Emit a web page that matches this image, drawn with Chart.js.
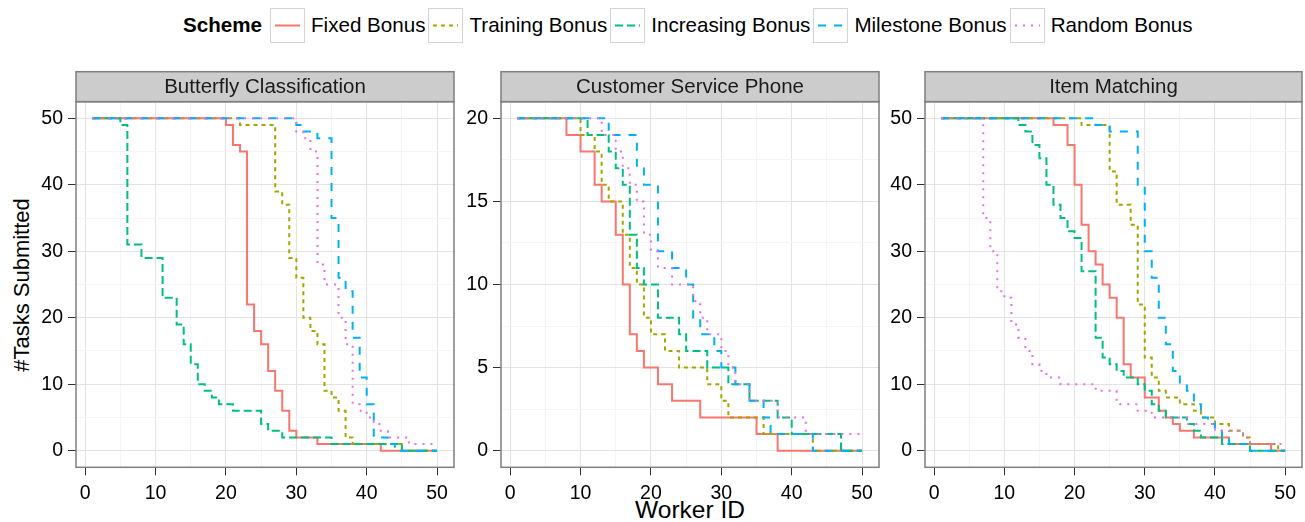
<!DOCTYPE html>
<html>
<head>
<meta charset="utf-8">
<title>Tasks submitted per worker</title>
<script src="https://cdn.jsdelivr.net/npm/chart.js@4.4.1/dist/chart.umd.min.js"></script>
<style>
  body { margin: 0; width: 1305px; height: 522px; background: #fff; position: relative; overflow: hidden;
         font-family: "Liberation Sans", Arial, sans-serif; color: #000; }
  canvas.panel { position: absolute; left: 0; top: 0; }
  #legend { position: absolute; left: 183px; top: 7px; height: 36px; display: flex; align-items: center; font-size: 20.6px; }
  #legend .title { font-weight: bold; margin-right: 8px; }
  #legend .key { width: 35px; height: 35px; border: 1px solid #d4d4d4; box-sizing: border-box; margin-right: 6px; }
  #legend .lbl { margin-right: 3px; }
  .axis-title { position: absolute; white-space: nowrap; }
  #xtitle { left: 690px; top: 510px; font-size: 24.5px; transform: translate(-50%, -50%); }
  #ytitle { left: 22px; top: 285px; font-size: 22px; transform: translate(-50%, -50%) rotate(-90deg); }
</style>
</head>
<body>
<div id="legend"></div>
<div class="axis-title" id="xtitle">Worker ID</div>
<div class="axis-title" id="ytitle">#Tasks Submitted</div>
<canvas class="panel" id="p1" width="1305" height="522"></canvas>
<canvas class="panel" id="p2" width="1305" height="522"></canvas>
<canvas class="panel" id="p3" width="1305" height="522"></canvas>
<script>
// ---- data ----
const workerIds = [
  1, 2, 3, 4, 5, 6, 7, 8, 9, 10,
  11, 12, 13, 14, 15, 16, 17, 18, 19, 20,
  21, 22, 23, 24, 25, 26, 27, 28, 29, 30,
  31, 32, 33, 34, 35, 36, 37, 38, 39, 40,
  41, 42, 43, 44, 45, 46, 47, 48, 49, 50
];
const schemes = ['Fixed Bonus', 'Training Bonus', 'Increasing Bonus', 'Milestone Bonus', 'Random Bonus'];
const panelTitles = ['Butterfly Classification', 'Customer Service Phone', 'Item Matching'];

// Butterfly Classification
const butterflyFixed = [
  50, 50, 50, 50, 50, 50, 50, 50, 50, 50,
  50, 50, 50, 50, 50, 50, 50, 50, 50, 49,
  46, 45, 22, 18, 16, 12, 9, 6, 3, 2,
  2, 2, 1, 1, 1, 1, 1, 1, 1, 1,
  1, 0, 0, 0, 0, 0, 0, 0, 0, 0
];
const butterflyTraining = [
  50, 50, 50, 50, 50, 50, 50, 50, 50, 50,
  50, 50, 50, 50, 50, 50, 50, 50, 50, 50,
  50, 49, 49, 49, 49, 49, 39, 37, 29, 26,
  20, 18, 16, 9, 8, 6, 2, 1, 1, 1,
  1, 1, 1, 1, 0, 0, 0, 0, 0, 0
];
const butterflyIncreasing = [
  50, 50, 50, 50, 49, 31, 31, 29, 29, 29,
  23, 23, 19, 16, 13, 10, 9, 8, 7, 7,
  6, 6, 6, 6, 4, 3, 3, 2, 2, 2,
  2, 2, 2, 2, 1, 1, 1, 1, 1, 1,
  1, 1, 1, 1, 0, 0, 0, 0, 0, 0
];
const butterflyMilestone = [
  50, 50, 50, 50, 50, 50, 50, 50, 50, 50,
  50, 50, 50, 50, 50, 50, 50, 50, 50, 50,
  50, 50, 50, 50, 50, 50, 50, 50, 50, 49,
  48, 48, 47, 47, 35, 26, 24, 17, 11, 7,
  2, 2, 1, 0, 0, 0, 0, 0, 0, 0
];
const butterflyRandom = [
  50, 50, 50, 50, 50, 50, 50, 50, 50, 50,
  50, 50, 50, 50, 50, 50, 50, 50, 50, 50,
  50, 50, 50, 50, 50, 50, 50, 50, 50, 48,
  47, 45, 28, 25, 25, 20, 16, 7, 6, 5,
  4, 3, 2, 2, 2, 1, 1, 1, 1, 1
];

// Customer Service Phone
const phoneFixed = [
  20, 20, 20, 20, 20, 20, 20, 19, 19, 18,
  18, 16, 15, 15, 13, 10, 7, 6, 5, 5,
  4, 4, 3, 3, 3, 3, 2, 2, 2, 2,
  2, 2, 2, 2, 1, 1, 1, 0, 0, 0,
  0, 0, 0, 0, 0, 0, 0, 0, 0, 0
];
const phoneTraining = [
  20, 20, 20, 20, 20, 20, 20, 20, 20, 19,
  19, 18, 16, 15, 15, 13, 11, 10, 8, 7,
  7, 6, 6, 5, 5, 5, 5, 4, 4, 3,
  2, 2, 2, 2, 2, 1, 1, 1, 1, 1,
  1, 1, 0, 0, 0, 0, 0, 0, 0, 0
];
const phoneIncreasing = [
  20, 20, 20, 20, 20, 20, 20, 20, 20, 20,
  19, 19, 19, 18, 17, 16, 13, 11, 10, 10,
  8, 8, 8, 7, 6, 6, 6, 5, 5, 5,
  4, 4, 4, 3, 3, 3, 3, 2, 2, 1,
  1, 1, 1, 1, 1, 1, 0, 0, 0, 0
];
const phoneMilestone = [
  20, 20, 20, 20, 20, 20, 20, 20, 20, 20,
  20, 20, 20, 19, 19, 19, 19, 17, 16, 16,
  12, 12, 11, 11, 10, 8, 7, 7, 6, 5,
  5, 4, 4, 3, 3, 2, 1, 1, 1, 1,
  1, 1, 0, 0, 0, 0, 0, 0, 0, 0
];
const phoneRandom = [
  20, 20, 20, 20, 20, 20, 20, 20, 20, 20,
  20, 20, 19, 19, 18, 17, 16, 15, 13, 12,
  11, 11, 10, 10, 10, 9, 8, 7, 7, 6,
  5, 4, 4, 3, 3, 3, 3, 2, 2, 2,
  2, 1, 1, 1, 1, 1, 1, 1, 1, 1
];

// Item Matching
const matchFixed = [
  50, 50, 50, 50, 50, 50, 50, 50, 50, 50,
  50, 50, 50, 50, 50, 50, 49, 49, 46, 40,
  34, 30, 28, 25, 23, 20, 13, 11, 11, 8,
  8, 6, 5, 4, 3, 3, 2, 2, 2, 2,
  2, 1, 1, 1, 1, 1, 1, 0, 0, 0
];
const matchTraining = [
  50, 50, 50, 50, 50, 50, 50, 50, 50, 50,
  50, 50, 50, 50, 50, 50, 50, 50, 50, 50,
  49, 49, 49, 49, 42, 37, 37, 34, 22, 14,
  11, 9, 8, 8, 7, 7, 6, 5, 5, 4,
  4, 3, 3, 2, 1, 1, 1, 1, 0, 0
];
const matchIncreasing = [
  50, 50, 50, 50, 50, 50, 50, 50, 50, 50,
  50, 49, 48, 46, 44, 40, 37, 35, 33, 32,
  27, 27, 17, 14, 13, 12, 11, 11, 10, 9,
  7, 6, 5, 5, 5, 4, 3, 2, 2, 2,
  1, 1, 1, 1, 0, 0, 0, 0, 0, 0
];
const matchMilestone = [
  50, 50, 50, 50, 50, 50, 50, 50, 50, 50,
  50, 50, 50, 50, 50, 50, 50, 50, 50, 50,
  50, 50, 49, 49, 48, 48, 48, 48, 40, 30,
  26, 20, 16, 12, 10, 9, 7, 5, 4, 3,
  2, 1, 1, 1, 0, 0, 0, 0, 0, 0
];
const matchRandom = [
  50, 50, 50, 50, 50, 50, 35, 30, 24, 23,
  19, 17, 15, 13, 12, 11, 11, 10, 10, 10,
  10, 10, 9, 9, 9, 7, 7, 7, 6, 6,
  5, 5, 5, 5, 5, 4, 4, 4, 4, 3,
  3, 3, 3, 2, 1, 1, 1, 1, 1, 1
];

const xTicks = [0, 5, 10, 15, 20, 25, 30, 35, 40, 45, 50];
const yTicks50 = [0, 5, 10, 15, 20, 25, 30, 35, 40, 45, 50];
const yTicks20 = [0, 2.5, 5, 7.5, 10, 12.5, 15, 17.5, 20];

// ---- styles ----
const schemeColors = ['#F8766D', '#A3A500', '#00BF7D', '#00B0F6', '#E76BF3'];
const schemeDashes = [[], [4, 4], [8, 4], [8, 8], [2, 6]];

const STRIP_TOP = 71.7;
const PANEL_TOP = 101.7;
const PANEL_BOTTOM = 467.3;
const Y_AXIS_W = 50;
const X_AXIS_H = 40;
const FONT = '"Liberation Sans", Arial, sans-serif';

// ---- legend ----
function buildLegend() {
  const legend = document.getElementById('legend');
  legend.innerHTML = '<span class="title">Scheme</span>';
  schemes.forEach((name, i) => {
    const key = document.createElement('span');
    key.className = 'key';
    const dash = schemeDashes[i].length ? `stroke-dasharray="${schemeDashes[i].join(' ')}"` : '';
    key.innerHTML = `<svg width="33" height="33"><line x1="4" y1="16.5" x2="29" y2="16.5" stroke="${schemeColors[i]}" stroke-width="2" ${dash}/></svg>`;
    legend.appendChild(key);
    const lbl = document.createElement('span');
    lbl.className = 'lbl';
    lbl.textContent = name;
    legend.appendChild(lbl);
  });
}

// strip on top + grey panel border
const facetPlugin = {
  id: 'facet',
  afterDraw(chart, args, opts) {
    const a = chart.chartArea;
    const ctx = chart.ctx;
    ctx.save();
    ctx.fillStyle = '#cccccc';
    ctx.fillRect(a.left, STRIP_TOP, a.right - a.left, a.top - STRIP_TOP);
    ctx.strokeStyle = '#7f7f7f';
    ctx.lineWidth = 1.5;
    ctx.strokeRect(a.left, STRIP_TOP, a.right - a.left, a.top - STRIP_TOP);
    ctx.strokeRect(a.left, a.top, a.right - a.left, a.bottom - a.top);
    ctx.fillStyle = '#1a1a1a';
    ctx.font = '20.5px ' + FONT;
    ctx.textAlign = 'center';
    ctx.textBaseline = 'middle';
    ctx.fillText(opts.title, (a.left + a.right) / 2, (STRIP_TOP + a.top) / 2 + 1);
    ctx.restore();
  }
};

function makeAxis(tickValues, majorStep, min, max, isY) {
  const isMajor = v => Math.abs(v / majorStep - Math.round(v / majorStep)) < 1e-6;
  return {
    type: 'linear',
    min: min,
    max: max,
    afterBuildTicks: scale => { scale.ticks = tickValues.map(v => ({ value: v })); },
    afterFit: scale => {
      if (isY) scale.width = Y_AXIS_W; else scale.height = X_AXIS_H;
    },
    border: { display: false },
    grid: {
      color: ctx => (ctx.tick && isMajor(ctx.tick.value)) ? '#e3e3e3' : '#f5f5f5',
      lineWidth: 1,
      tickLength: 8,
      tickColor: ctx => (ctx.tick && isMajor(ctx.tick.value)) ? '#333333' : 'rgba(0,0,0,0)'
    },
    ticks: {
      autoSkip: false,
      maxRotation: 0,
      padding: isY ? 5 : 7,
      color: '#000',
      font: { size: 19.5, family: FONT },
      callback: v => isMajor(v) ? String(v) : ''
    }
  };
}

function makePanel(canvasId, title, seriesList, yMax, yTicks, yMajor, panelLeft, panelRight) {
  const datasets = seriesList.map((values, i) => ({
    label: schemes[i],
    data: workerIds.map((w, k) => ({ x: w, y: values[k] })),
    borderColor: schemeColors[i],
    borderDash: schemeDashes[i],
    borderWidth: 2,
    borderCapStyle: 'butt',
    stepped: 'before',
    pointRadius: 0,
    fill: false,
    order: seriesList.length - 1 - i
  }));
  const pad = yMax * 0.05;
  return new Chart(document.getElementById(canvasId), {
    type: 'line',
    data: { datasets: datasets },
    options: {
      responsive: false,
      animation: false,
      devicePixelRatio: 1,
      layout: {
        padding: {
          left: panelLeft - Y_AXIS_W,
          right: 1305 - panelRight,
          top: PANEL_TOP,
          bottom: 522 - PANEL_BOTTOM - X_AXIS_H
        }
      },
      scales: {
        x: makeAxis(xTicks, 10, -1.3, 52.4, false),
        y: makeAxis(yTicks, yMajor, -pad, yMax + pad, true)
      },
      plugins: {
        legend: { display: false },
        tooltip: { enabled: false },
        facet: { title: title }
      }
    },
    plugins: [facetPlugin]
  });
}

buildLegend();
makePanel('p1', panelTitles[0],
  [butterflyFixed, butterflyTraining, butterflyIncreasing, butterflyMilestone, butterflyRandom],
  50, yTicks50, 10, 76, 454);
makePanel('p2', panelTitles[1],
  [phoneFixed, phoneTraining, phoneIncreasing, phoneMilestone, phoneRandom],
  20, yTicks20, 5, 501, 879);
makePanel('p3', panelTitles[2],
  [matchFixed, matchTraining, matchIncreasing, matchMilestone, matchRandom],
  50, yTicks50, 10, 925, 1302);
</script>
</body>
</html>
